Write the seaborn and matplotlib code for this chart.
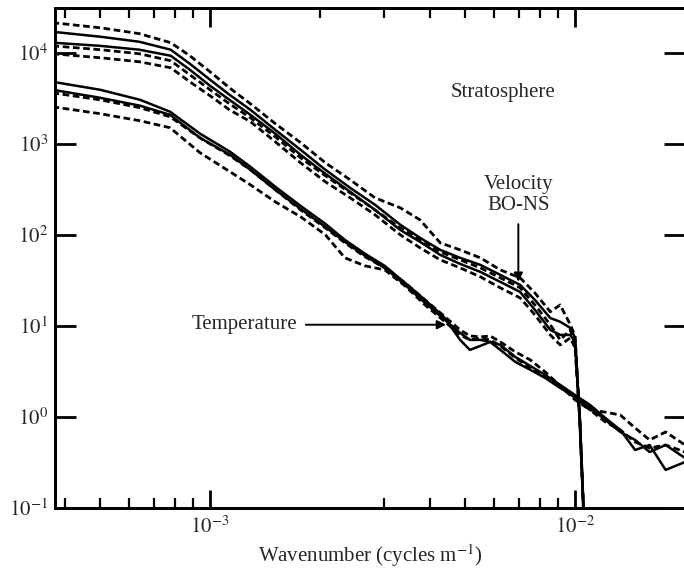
import matplotlib
matplotlib.use("Agg")
import matplotlib.pyplot as plt
import seaborn as sns
from matplotlib.ticker import FixedLocator, FixedFormatter, NullLocator, NullFormatter

# ---- spectra (wavenumber in cycles per metre) ----
k_vel = [3.7e-4, 5.0e-4, 6.4e-4, 7.8e-4, 8.8e-4, 1.0e-3, 1.13e-3, 1.29e-3, 1.51e-3,
         1.77e-3, 2.07e-3, 2.42e-3, 2.83e-3, 3.32e-3, 3.76e-3, 4.27e-3, 4.84e-3,
         5.5e-3, 6.24e-3, 7.07e-3, 7.76e-3, 8.55e-3, 9.1e-3, 9.7e-3, 1.0e-2,
         1.03e-2, 1.06e-2]

vel_dash_a = [2.14e4, 1.88e4, 1.62e4, 1.29e4, 9.27e3, 6.18e3, 4.12e3, 2.75e3, 1.66e3,
              1.03e3, 618, 402, 255, 198, 146, 81.7, 68.4, 55.9, 41.2, 33.7, 23.0,
              14.3, 17.0, 10.3, 7.76, 0.93, 0.057]
vel_solid_a = [1.70e4, 1.50e4, 1.32e4, 1.08e4, 7.57e3, 5.05e3, 3.46e3, 2.36e3, 1.42e3,
               859, 518, 328, 214, 129, 92.7, 68.4, 55.9, 46.8, 36.3, 28.2, 19.3,
               12.2, 11.1, 9.51, 7.38, 0.93, 0.057]
vel_solid_b = [1.29e4, 1.19e4, 1.08e4, 9.27e3, 6.51e3, 4.34e3, 3.04e3, 2.08e3, 1.29e3,
               757, 468, 297, 188, 113, 83.8, 60.3, 48.0, 39.2, 30.4, 23.6, 15.0,
               9.04, 7.96, 7.96, 6.67, 0.93, 0.057]
vel_dash_b = [1.19e4, 1.08e4, 9.75e3, 8.17e3, 5.73e3, 3.92e3, 2.75e3, 1.93e3, 1.19e3,
              702, 445, 289, 188, 119, 88.1, 65.1, 53.1, 43.4, 33.7, 26.2, 17.0,
              10.3, 7.02, 9.04, 6.18, 0.93, 0.057]
vel_dash_c = [9.75e3, 8.81e3, 7.96e3, 6.84e3, 4.80e3, 3.37e3, 2.36e3, 1.75e3, 1.05e3,
              618, 382, 255, 166, 100, 72.0, 53.1, 43.4, 34.6, 26.2, 20.3, 13.2,
              7.96, 6.18, 7.38, 5.73, 0.93, 0.057]

k_temp = [3.7e-4, 5.0e-4, 6.43e-4, 7.77e-4, 9.39e-4, 1.135e-3, 1.29e-3, 1.51e-3,
          1.77e-3, 2.07e-3, 2.34e-3, 2.66e-3, 3.01e-3, 3.42e-3, 3.88e-3, 4.40e-3,
          4.84e-3, 5.15e-3, 5.50e-3, 5.85e-3, 6.24e-3, 6.86e-3, 7.54e-3, 8.28e-3,
          9.10e-3, 1.0e-2, 1.10e-2, 1.21e-2, 1.33e-2, 1.46e-2, 1.60e-2, 1.77e-2, 2.0e-2]

temp_solid_a = [4.80e3, 3.92e3, 3.04e3, 2.25e3, 1.29e3, 817, 559, 337, 208, 132, 88.1,
                61.8, 45.6, 29.7, 19.3, 12.2, 7.02, 5.45, 6.03, 6.67, 6.18, 4.56, 3.63,
                2.89, 2.25, 1.74, 1.35, 0.975, 0.720, 0.434, 0.492, 0.262, 0.320]
temp_solid_b = [3.92e3, 3.20e3, 2.62e3, 2.08e3, 1.16e3, 757, 518, 312, 193, 122, 83.8,
                58.8, 43.4, 28.2, 17.9, 11.6, 8.38, 7.02, 7.02, 6.67, 5.45, 4.02, 3.29,
                2.68, 2.08, 1.66, 1.26, 0.927, 0.684, 0.559, 0.412, 0.492, 0.354]
temp_dash_a = [3.63e3, 3.04e3, 2.49e3, 1.98e3, 1.16e3, 738, 518, 312, 188, 119, 81.7,
               57.3, 43.4, 29.7, 19.3, 12.6, 9.04, 7.76, 7.57, 7.76, 6.67, 5.18, 4.23,
               3.12, 2.19, 1.54, 1.19, 1.13, 1.05, 0.757, 0.559, 0.684, 0.492]
temp_dash_b = [2.55e3, 2.14e3, 1.79e3, 1.50e3, 796, 492, 354, 230, 158, 100, 55.9,
               45.6, 41.2, 27.5, 17.0, 11.1, 7.96, 7.02, 7.38, 7.02, 6.03, 4.45, 3.46,
               2.82, 2.19, 1.62, 1.19, 0.881, 0.720, 0.531, 0.456, 0.492, 0.412]

# ---- axis ticks ----
x_major = [1e-3, 1e-2]
x_major_labels = [r"$10^{-3}$", r"$10^{-2}$"]
x_minor_bottom = [4e-4, 5e-4, 6e-4, 7e-4, 8e-4, 9e-4,
                  3e-3, 4e-3, 5e-3, 6e-3, 7e-3, 8e-3, 9e-3]
x_minor_top = [4e-4, 5e-4, 6e-4, 7e-4, 8e-4, 9e-4,
               2e-3, 3e-3, 4e-3, 5e-3, 6e-3, 7e-3, 8e-3, 9e-3]
y_major = [1e-1, 1e0, 1e1, 1e2, 1e3, 1e4]
y_major_labels = [r"$10^{-1}$", r"$10^{0}$", r"$10^{1}$", r"$10^{2}$",
                  r"$10^{3}$", r"$10^{4}$"]

sns.set_style("ticks")
plt.rcParams["font.family"] = ["Liberation Serif", "DejaVu Serif"]
plt.rcParams["mathtext.fontset"] = "stix"

fig = plt.figure(figsize=(6.84, 5.72), dpi=100)
ax = fig.add_axes([55 / 684, 64 / 572, 630 / 684, 500 / 572])

solid = dict(color="black", linewidth=1.8, linestyle="-")
dashed = dict(color="black", linewidth=2.0, linestyle=(0, (2.4, 1.3)))

curves = [
    (k_vel, vel_dash_a, dashed),
    (k_vel, vel_solid_a, solid),
    (k_vel, vel_solid_b, solid),
    (k_vel, vel_dash_b, dashed),
    (k_vel, vel_dash_c, dashed),
    (k_temp, temp_solid_a, solid),
    (k_temp, temp_solid_b, solid),
    (k_temp, temp_dash_a, dashed),
    (k_temp, temp_dash_b, dashed),
]
for k, spec, style in curves:
    sns.lineplot(x=k, y=spec, ax=ax, estimator=None, sort=False, **style)

xlim = (3.76e-4, 2.0e-2)
ax.set_xscale("log")
ax.set_yscale("log")
ax.set_xlim(*xlim)
ax.set_ylim(0.1, 3.1e4)

ax.xaxis.set_major_locator(FixedLocator(x_major))
ax.xaxis.set_major_formatter(FixedFormatter(x_major_labels))
ax.xaxis.set_minor_locator(FixedLocator(x_minor_bottom))
ax.xaxis.set_minor_formatter(NullFormatter())
ax.yaxis.set_major_locator(FixedLocator(y_major))
ax.yaxis.set_major_formatter(FixedFormatter(y_major_labels))
ax.yaxis.set_minor_locator(NullLocator())

ax.tick_params(which="both", direction="in", top=False, right=True,
               labelsize=15, color="black")
ax.tick_params(which="major", length=13, width=2.0, pad=6)
ax.tick_params(which="minor", length=7, width=1.6)
ax.tick_params(axis="y", which="major", length=15, pad=5)

# upper frame carries its own set of tick marks
top = ax.twiny()
top.set_xscale("log")
top.set_xlim(*xlim)
top.xaxis.set_major_locator(FixedLocator(x_major))
top.xaxis.set_minor_locator(FixedLocator(x_minor_top))
top.xaxis.set_major_formatter(NullFormatter())
top.xaxis.set_minor_formatter(NullFormatter())
top.tick_params(which="both", direction="in", color="black")
top.tick_params(which="major", length=14, width=2.0)
top.tick_params(which="minor", length=7, width=1.6)

for a in (ax, top):
    for side in a.spines.values():
        side.set_linewidth(2.0)
        side.set_color("black")

ax.set_xlabel("Wavenumber (cycles m$^{-1}$)", fontsize=15, labelpad=3)

arrow = dict(arrowstyle="-|>", color="black", lw=1.4, mutation_scale=13,
             shrinkA=4, shrinkB=0)

ax.text(0.711, 0.83, "Stratosphere", transform=ax.transAxes,
        ha="center", va="center", fontsize=15)
ax.annotate("Velocity\nBO-NS", xy=(6.99e-3, 30.5), xytext=(6.99e-3, 272),
            ha="center", va="center", fontsize=15, linespacing=1.15,
            arrowprops=arrow)
ax.annotate("Temperature", xy=(4.43e-3, 10.3), xytext=(1.24e-3, 10.3),
            ha="center", va="center", fontsize=15, arrowprops=arrow)

fig.savefig("out.png", dpi=100)
